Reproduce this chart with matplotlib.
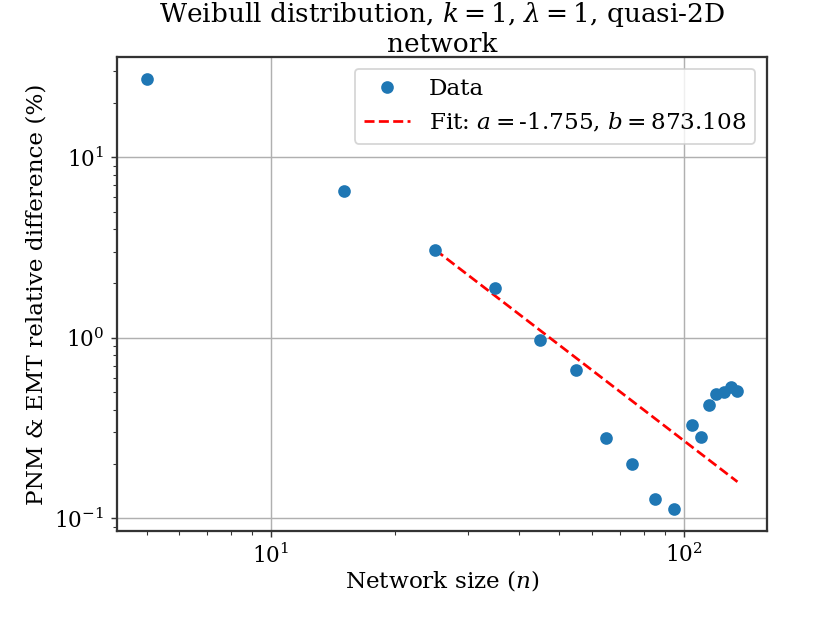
import numpy as np
import matplotlib
matplotlib.use("Agg")
import matplotlib.pyplot as plt

plt.rcParams['font.family'] = ['DejaVu Serif']
plt.rcParams['mathtext.fontset'] = 'dejavuserif'
plt.rcParams['font.size'] = 12

network_size = [5, 15, 25, 35, 45, 55, 65, 75, 85, 95, 105, 110, 115, 120, 125, 130, 135]
rel_diff = [27.3, 6.49, 3.06, 1.89, 0.975, 0.666, 0.280, 0.199, 0.128, 0.112,
            0.330, 0.283, 0.423, 0.486, 0.501, 0.532, 0.509]
fit_a = -1.755
fit_b = 873.108
fit_start = 25

fig = plt.figure(figsize=(830 / 130, 623 / 130), dpi=130)
ax = fig.add_axes([117 / 830, 1 - 531 / 623, (767 - 117) / 830, (531 - 57) / 623])

ax.plot(network_size, rel_diff, 'o', color='#1f77b4', label='Data', zorder=3)
n_fit = np.array([n for n in network_size if n >= fit_start], dtype=float)
ax.plot(n_fit, fit_b * n_fit ** fit_a, 'r--',
        label=f'Fit: $a=${fit_a}, $b=${fit_b}', zorder=2)

ax.set_xscale('log')
ax.set_yscale('log')
ax.grid(True, which='major', color='#b0b0b0', linewidth=0.8)
ax.set_axisbelow(True)
for s in ax.spines.values():
    s.set_color('#333333')
    s.set_linewidth(1.25)
ax.tick_params(which='both', color='#333333', labelsize=12)

ax.set_xlabel('Network size ($n$)', fontsize=12.8, labelpad=0)
ax.set_ylabel('PNM & EMT relative difference (%)', fontsize=12.8)
ax.set_title('Weibull distribution, $k=1$, $\\lambda=1$, quasi-2D\nnetwork',
             fontsize=14.6, pad=3, linespacing=1.15)
ax.legend(loc='upper right', fontsize=12.8)

fig.savefig('out.png', dpi=130)
